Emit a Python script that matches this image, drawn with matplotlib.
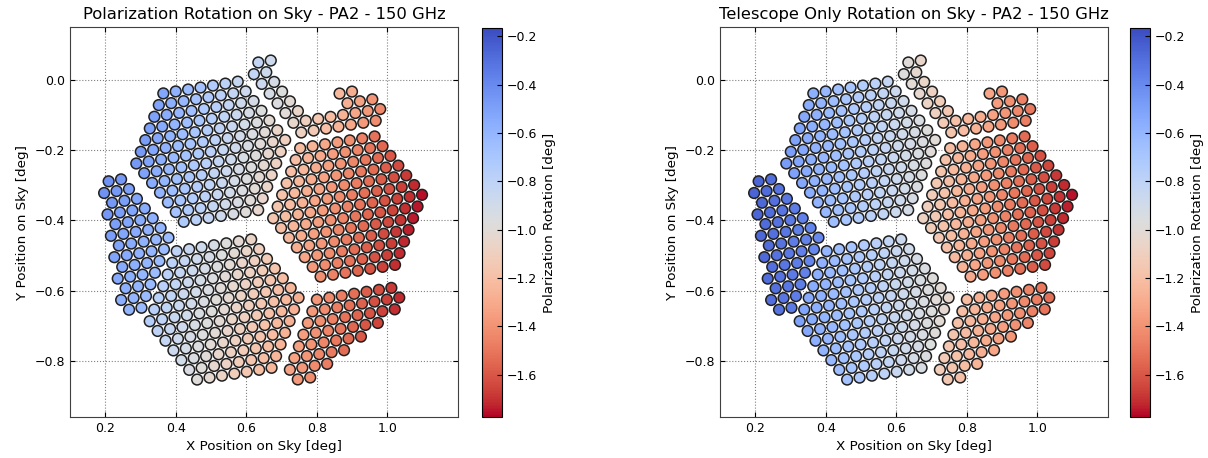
import numpy as np
import matplotlib.pyplot as plt
from matplotlib.colors import Normalize

# feedhorn lattice on the sky
PITCH = 0.0356   # deg between neighbouring detectors
TILT = 9.0       # angle of the lattice rows [deg]

# wafers: reference position (x, y) and rows (row index, first column, n detectors)
HEX_COUNTS = [7, 8, 9, 10, 11, 12, 13, 12, 11, 10, 9, 8, 7]
hex_rows = [(r - 6, -(n - 1) / 2, n) for r, n in enumerate(HEX_COUNTS)]

left_rows = [(0, 0.5, 2), (1, 0, 3), (2, 0.5, 3), (3, 0, 4), (4, 0.5, 4), (5, 0, 5),
             (6, 0.5, 5), (7, 0, 5), (8, 0.5, 4), (9, 0, 4), (10, 0.5, 3), (11, 0, 3),
             (12, 0.5, 2)]
top_rows = [(0, 0, 2), (1, -0.5, 2), (2, 0, 2), (3, 0.5, 2), (4, 1, 2), (4, 6, 2),
            (5, 1.5, 2), (5, 6.5, 3), (6, 2, 8), (7, 2.5, 7)]
lowright_rows = [(0, 0, 7), (1, -0.5, 8), (2, -1, 8), (3, -1.5, 7), (4, -2, 6),
                 (5, -2.5, 5), (6, -3, 4), (7, -2.5, 2)]

wafer_names = ["hex UL", "hex R", "hex low", "semi left", "semi top", "semi low-right"]
wafer_x = [0.499, 0.887, 0.537, 0.192, 0.634, 0.800]
wafer_y = [-0.205, -0.361, -0.654, -0.292, 0.049, -0.626]
wafer_rows = [hex_rows, hex_rows, hex_rows, left_rows, top_rows, lowright_rows]

# rotation [deg] read at each wafer reference point and its change per deg of x
pol_ref = [-0.78, -1.46, -1.02, -0.42, -0.83, -1.38]
pol_gx = [-1.55, -1.46, -1.29, -0.90, -1.63, -1.45]
pol_gy = 0.30
tel_ref = [-0.74, -1.42, -0.77, -0.25, -0.99, -1.22]
tel_gx = [-1.26, -1.58, -1.25, -0.80, -1.45, -1.30]
tel_gy = 0.0

VMIN, VMAX = -1.775, -0.165


def wafer_points(x0, y0, rows):
    t = np.radians(TILT)
    eu = np.array([np.cos(t), np.sin(t)])
    ev = np.array([-np.sin(t), np.cos(t)])
    pts = []
    for r, u0, n in rows:
        for k in range(n):
            u = u0 + k
            pts.append(np.array([x0, y0]) + PITCH * (u * eu - r * 0.866 * ev))
    return np.array(pts)


def panel_values(ref, gx, gy):
    xs, ys, vals = [], [], []
    for x0, y0, rows, v0, g in zip(wafer_x, wafer_y, wafer_rows, ref, gx):
        p = wafer_points(x0, y0, rows)
        xs.append(p[:, 0])
        ys.append(p[:, 1])
        vals.append(v0 + g * (p[:, 0] - x0) + gy * (p[:, 1] - y0))
    return np.concatenate(xs), np.concatenate(ys), np.concatenate(vals)


plt.rcParams['font.family'] = 'DejaVu Sans'
plt.rcParams['xtick.direction'] = 'in'
plt.rcParams['ytick.direction'] = 'in'

fig = plt.figure(figsize=(12.08, 4.58), dpi=100)
W, H = 1208.0, 458.0
panels = [
    ("Polarization Rotation on Sky - PA2 - 150 GHz", pol_ref, pol_gx, pol_gy, 70, 482),
    ("Telescope Only Rotation on Sky - PA2 - 150 GHz", tel_ref, tel_gx, tel_gy, 720, 1130),
]
norm = Normalize(vmin=VMIN, vmax=VMAX)

for title, ref, gx, gy, left, cleft in panels:
    ax = fig.add_axes([left / W, 41 / H, 388 / W, 390 / H])
    cax = fig.add_axes([cleft / W, 41 / H, 20 / W, 389 / H])
    x, y, v = panel_values(ref, gx, gy)
    sc = ax.scatter(x, y, c=v, cmap='coolwarm_r', norm=norm, s=60,
                    edgecolors='#202020', linewidths=1.1, zorder=3)
    ax.set_xlim(0.1, 1.2)
    ax.set_ylim(-0.96, 0.15)
    ax.set_xticks([0.2, 0.4, 0.6, 0.8, 1.0])
    ax.set_yticks([-0.8, -0.6, -0.4, -0.2, 0.0])
    ax.grid(True, linestyle=':', color='#808080', linewidth=0.8, zorder=0)
    ax.tick_params(top=True, right=True, labelsize=9)
    for sp in ax.spines.values():
        sp.set_color('#404040')
    ax.set_title(title, fontsize=11.8)
    ax.set_xlabel("X Position on Sky [deg]", fontsize=9.7)
    ax.set_ylabel("Y Position on Sky [deg]", fontsize=9.7)
    cb = fig.colorbar(sc, cax=cax)
    cb.set_ticks([-0.2, -0.4, -0.6, -0.8, -1.0, -1.2, -1.4, -1.6])
    cb.ax.tick_params(labelsize=9, direction='in')
    cb.set_label("Polarization Rotation [deg]", fontsize=9.7)

fig.savefig("out.png", dpi=100)
